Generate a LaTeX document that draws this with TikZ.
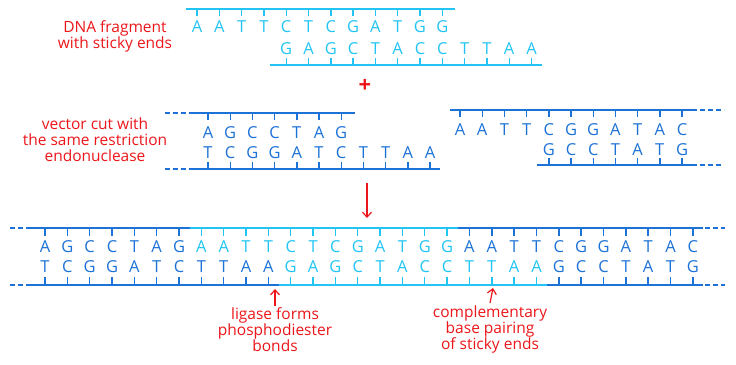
\documentclass[tikz,border=0pt]{standalone}
\usepackage{fontspec}
\setmainfont{Open Sans}
\usepackage{xcolor}
\usepackage{tikz}
\usetikzlibrary{arrows.meta,positioning}
\definecolor{fragblue}{RGB}{34,196,244}
\definecolor{vecblue}{RGB}{28,114,214}
\definecolor{notered}{RGB}{236,22,26}
\tikzset{
    nucleo/.style={
        inner sep=0pt,
        font=\fontsize{16.5}{18}\selectfont
    },
    fragbase/.style={nucleo, text=fragblue},
    vecbase/.style={nucleo, text=vecblue},
    backbone/.style={line width=1.4pt},
    frag/.style={backbone, fragblue},
    vec/.style={backbone, vecblue},
    vecend/.style={vec, dash pattern=on 5pt off 3pt},
    nota/.style={
        text=notered,
        align=center,
        inner sep=2pt,
        font=\fontsize{15.5}{16}\selectfont
    },
    seta/.style={-{Straight Barb[length=5pt,width=9pt]}, notered, line width=1.2pt}
}

\begin{document}
\begin{tikzpicture}[x=1pt, y=-1pt]
    \useasboundingbox (0,0) rectangle (736,364);

    % DNA fragment with sticky ends
    \node[nota] (fraglbl) at (115,36) {DNA fragment\\with sticky ends};
    \foreach \b [count=\i from 0] in {A,A,T,T,C,T,C,G,A,T,G,G} {
        \node[fragbase] (ft\i) at ({197+22.3*\i},27) {\b};
        \draw[frag] ({197+22.3*\i},9) -- ++(0,7);
    }
    \foreach \b [count=\i from 4] in {G,A,G,C,T,A,C,C,T,T,A,A} {
        \node[fragbase] (fb\i) at ({197+22.3*\i},49) {\b};
        \draw[frag] ({197+22.3*\i},58) -- ++(0,7);
    }
    \draw[frag] (186,9) -- (455,9);
    \draw[frag] (270,65) -- (542,65);

    \node[text=notered, inner sep=0pt, font=\fontsize{22}{22}\selectfont\bfseries] (plus) at (365,86) {+};

    % vector, left piece
    \node[nota] (veclbl) at (95,140) {vector cut with\\the same restriction\\endonuclease};
    \foreach \b [count=\i from 0] in {A,G,C,C,T,A,G} {
        \node[vecbase] (la\i) at ({208+22.2*\i},133) {\b};
        \draw[vec] ({208+22.2*\i},113) -- ++(0,7);
    }
    \foreach \b [count=\i from 0] in {T,C,G,G,A,T,C,T,T,A,A} {
        \node[vecbase] (lb\i) at ({208+22.2*\i},153) {\b};
        \draw[vec] ({208+22.2*\i},162) -- ++(0,7);
    }
    \draw[vecend] (165,113) -- (193,113);
    \draw[vec] (193,113) -- (355,113);
    \draw[vecend] (165,169) -- (193,169);
    \draw[vec] (193,169) -- (440,169);

    % vector, right piece
    \foreach \b [count=\i from 0] in {A,A,T,T,C,G,G,A,T,A,C} {
        \node[vecbase] (ra\i) at ({460+22.2*\i},130) {\b};
        \draw[vec] ({460+22.2*\i},110) -- ++(0,7);
    }
    \foreach \b [count=\i from 4] in {G,C,C,T,A,T,G} {
        \node[vecbase] (rb\i) at ({460+22.2*\i},150) {\b};
        \draw[vec] ({460+22.2*\i},158) -- ++(0,7);
    }
    \draw[vec] (450,110) -- (692,110);
    \draw[vecend] (692,110) -- (724,110);
    \draw[vec] (537,165) -- (692,165);
    \draw[vecend] (692,165) -- (722,165);

    \coordinate (arrtop) at (367,183);
    \coordinate (arrbot) at (367,218);
    \draw[seta] (arrtop) -- (arrbot);

    % recombinant DNA
    \foreach \b [count=\i from 0] in {A,G,C,C,T,A,G,A,A,T,T,C,T,C,G,A,T,G,G,A,A,T,T,C,G,G,A,T,A,C} {
        \ifnum\i<7 \def\cor{vec}\else\ifnum\i<19 \def\cor{frag}\else\def\cor{vec}\fi\fi
        \node[\cor base] (ca\i) at ({45+22.34*\i},247) {\b};
        \draw[\cor] ({45+22.34*\i},228) -- ++(0,8);
    }
    \foreach \b [count=\i from 0] in {T,C,G,G,A,T,C,T,T,A,A,G,A,G,C,T,A,C,C,T,T,A,A,G,C,C,T,A,T,G} {
        \ifnum\i<11 \def\cor{vec}\else\ifnum\i<23 \def\cor{frag}\else\def\cor{vec}\fi\fi
        \node[\cor base] (cb\i) at ({45+22.34*\i},267) {\b};
        \draw[\cor] ({45+22.34*\i},277) -- ++(0,8);
    }
    \draw[vecend] (10,228) -- (28,228);
    \draw[vec] (28,228) -- (190,228);
    \draw[frag] (190,228) -- (458,228);
    \draw[vec] (458,228) -- (703,228);
    \draw[vecend] (705,228) -- (725,228);
    \draw[vecend] (10,285) -- (28,285);
    \draw[vec] (28,285) -- (279,285);
    \draw[frag] (279,285) -- (547,285);
    \draw[vec] (547,285) -- (703,285);
    \draw[vecend] (705,285) -- (725,285);

    % notes
    \node[nota] (ligase) at (275,330) {ligase forms\\phosphodiester\\bonds};
    \node[nota] (pairing) at (490,329) {complementary\\base pairing\\of sticky ends};
    \coordinate (ligtip) at (275,289);
    \coordinate (pairtip) at (493,288);
    \draw[seta] (ligase.north) -- (ligtip);
    \draw[seta] (pairing.north) -- (pairtip);
\end{tikzpicture}
\end{document}
